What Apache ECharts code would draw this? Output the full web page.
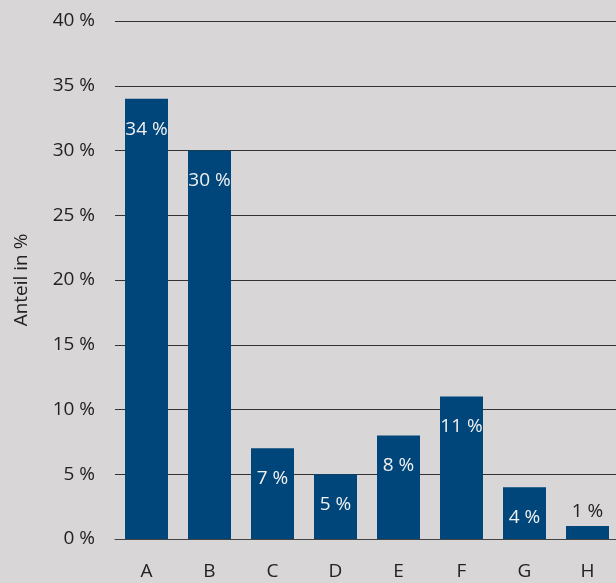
<!DOCTYPE html>
<html>
<head>
<meta charset="utf-8">
<script src="https://cdn.jsdelivr.net/npm/echarts@6/dist/echarts.min.js"></script>
<style>
  html, body { margin: 0; padding: 0; background: #d8d6d7; }
  #chart { width: 616px; height: 583px; }
</style>
</head>
<body>
<div id="chart"></div>
<script>
// Categories and their shares in percent
const categories = ['A', 'B', 'C', 'D', 'E', 'F', 'G', 'H'];
const shares = [34, 30, 7, 5, 8, 11, 4, 1];
// Value axis ticks
const yTicks = [0, 5, 10, 15, 20, 25, 30, 35, 40];

const FONT = '"Open Sans", "Noto Sans", sans-serif';
const FS = 19;
const BAR = '#00467a';

// Small bars get their label above the bar in dark text
const seriesData = shares.map(v => v < 3
  ? { value: v, label: { position: 'top', distance: 5, color: '#222' } }
  : { value: v });

const chart = echarts.init(document.getElementById('chart'), null, { renderer: 'canvas' });
chart.setOption({
  backgroundColor: '#d8d6d7',
  animation: false,
  textStyle: { fontFamily: FONT },
  // plot area runs slightly past the right edge of the canvas
  grid: { left: 115, width: 504, top: 21, bottom: 44, containLabel: false, outerBoundsMode: 'none' },
  xAxis: {
    type: 'category',
    data: categories,
    axisLine: { show: true, lineStyle: { color: '#444', width: 1 } },
    axisTick: { show: false },
    axisLabel: { color: '#222', fontSize: FS, fontFamily: FONT, margin: 23 }
  },
  yAxis: {
    type: 'value',
    min: yTicks[0],
    max: yTicks[yTicks.length - 1],
    interval: 5,
    name: 'Anteil in %',
    nameLocation: 'middle',
    nameGap: 84,
    nameRotate: 90,
    nameTextStyle: { color: '#222', fontSize: FS, fontFamily: FONT },
    axisLine: { show: false },
    axisTick: { show: false },
    axisLabel: { color: '#222', fontSize: FS, fontFamily: FONT, margin: 20, formatter: v => v + ' %' },
    splitLine: { show: true, lineStyle: { color: '#333', width: 1 } }
  },
  series: [{
    type: 'bar',
    data: seriesData,
    barWidth: 43,
    itemStyle: { color: BAR },
    label: {
      show: true,
      position: 'insideTop',
      distance: 21,
      color: '#f0f0f0',
      fontSize: FS,
      fontFamily: FONT,
      formatter: p => p.value + ' %'
    }
  }]
});
</script>
</body>
</html>
